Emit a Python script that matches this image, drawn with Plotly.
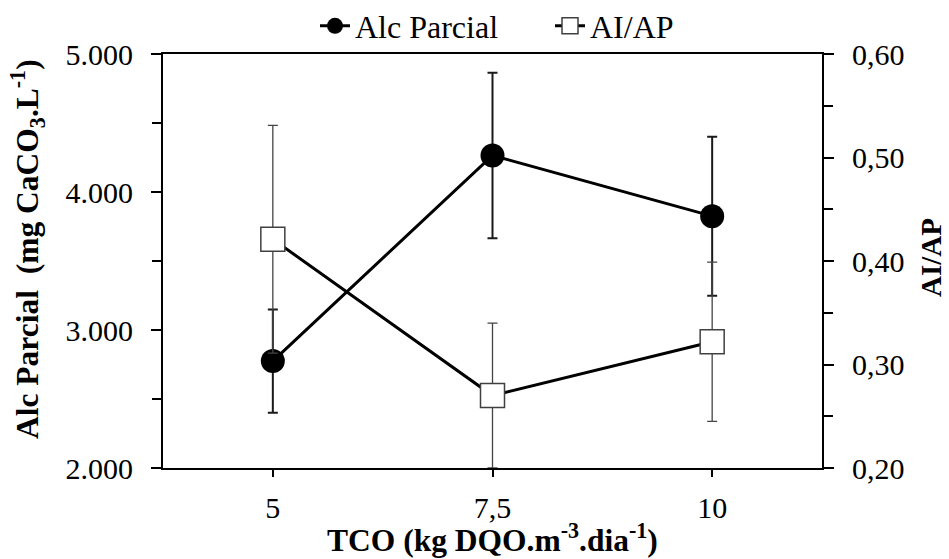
import plotly.graph_objects as go

# Data
tco = ["5", "7,5", "10"]
alc_parcial = [2775, 4265, 3825]
alc_err = [374, 600, 576]
ai_ap = [0.421, 0.270, 0.322]
ai_ap_err = [0.110, 0.070, 0.077]

left_ticks = [2000, 3000, 4000, 5000]
right_ticks = [0.2, 0.3, 0.4, 0.5, 0.6]

FONT = "Liberation Serif"
W, H = 949, 559
ML, MR, MT, MB = 163, 127, 54, 91

fig = go.Figure()

fig.add_trace(go.Scatter(
    x=tco, y=alc_parcial, name="Alc Parcial", mode="lines+markers",
    line=dict(color="black", width=3),
    marker=dict(symbol="circle", size=24, color="black"),
    error_y=dict(type="data", array=alc_err, visible=True,
                 color="#1a1a1a", thickness=2, width=5),
    yaxis="y",
))

fig.add_trace(go.Scatter(
    x=tco, y=ai_ap, name="AI/AP", mode="lines+markers",
    line=dict(color="black", width=3),
    marker=dict(symbol="square", size=24, color="white",
                line=dict(color="#404040", width=1.5)),
    error_y=dict(type="data", array=ai_ap_err, visible=True,
                 color="#444444", thickness=1.3, width=5),
    yaxis="y2",
))

axis_common = dict(showgrid=False, zeroline=False, showline=True,
                   linecolor="black", linewidth=2, ticks="outside",
                   tickcolor="black", tickwidth=1.5, automargin=False,
                   tickfont=dict(family=FONT, size=30, color="black"))


def px_x(px):
    return (px - ML) / (W - ML - MR)


def px_y(py):
    return (H - MB - py) / (H - MT - MB)


fig.update_layout(
    width=W, height=H,
    margin=dict(l=ML, r=MR, t=MT, b=MB, autoexpand=False),
    paper_bgcolor="white", plot_bgcolor="white",
    separators=",.",
    font=dict(family=FONT, color="black"),
    showlegend=True,
    legend=dict(orientation="h", xref="container", yref="container",
                x=550 / W, y=1 - 26 / H, xanchor="center",
                yanchor="middle", font=dict(family=FONT, size=32),
                itemwidth=30, entrywidth=190, entrywidthmode="pixels",
                bgcolor="rgba(0,0,0,0)"),
    xaxis=dict(type="category", range=[-0.5, 2.5], mirror=True,
               ticklen=7, ticklabelstandoff=5, **axis_common),
    yaxis=dict(range=[2000, 5000], tickvals=left_ticks, tickformat=",.0f",
               ticklen=10, ticklabelstandoff=12,
               minor=dict(dtick=500, ticks="outside", ticklen=9,
                          tickcolor="black", tickwidth=1.5),
               **axis_common),
    yaxis2=dict(range=[0.2, 0.6], tickvals=right_ticks, tickformat=".2f",
                overlaying="y", side="right", ticklen=10, ticklabelstandoff=12,
                minor=dict(dtick=0.05, ticks="outside", ticklen=9,
                           tickcolor="black", tickwidth=1.5),
                **axis_common),
    annotations=[
        dict(text="<b>TCO (kg DQO.m<sup>-3</sup>.dia<sup>-1</sup>)</b>",
             xref="paper", yref="paper", x=px_x(492), y=px_y(538),
             xanchor="center", yanchor="middle", showarrow=False,
             font=dict(family=FONT, size=31.5, color="black")),
        dict(text="<b>Alc Parcial  (mg CaCO<sub>3</sub>.L<sup>-1</sup>)</b>",
             xref="paper", yref="paper", x=px_x(27), y=px_y(249),
             xanchor="center", yanchor="middle", textangle=-90, showarrow=False,
             font=dict(family=FONT, size=31.5, color="black")),
        dict(text="<b>AI/AP</b>",
             xref="paper", yref="paper", x=px_x(931), y=px_y(258),
             xanchor="center", yanchor="middle", textangle=-90, showarrow=False,
             font=dict(family=FONT, size=29, color="black")),
    ],
)

fig.write_html("out.html",
               config={"displayModeBar": False},
               post_script="document.body.style.margin='0';")
